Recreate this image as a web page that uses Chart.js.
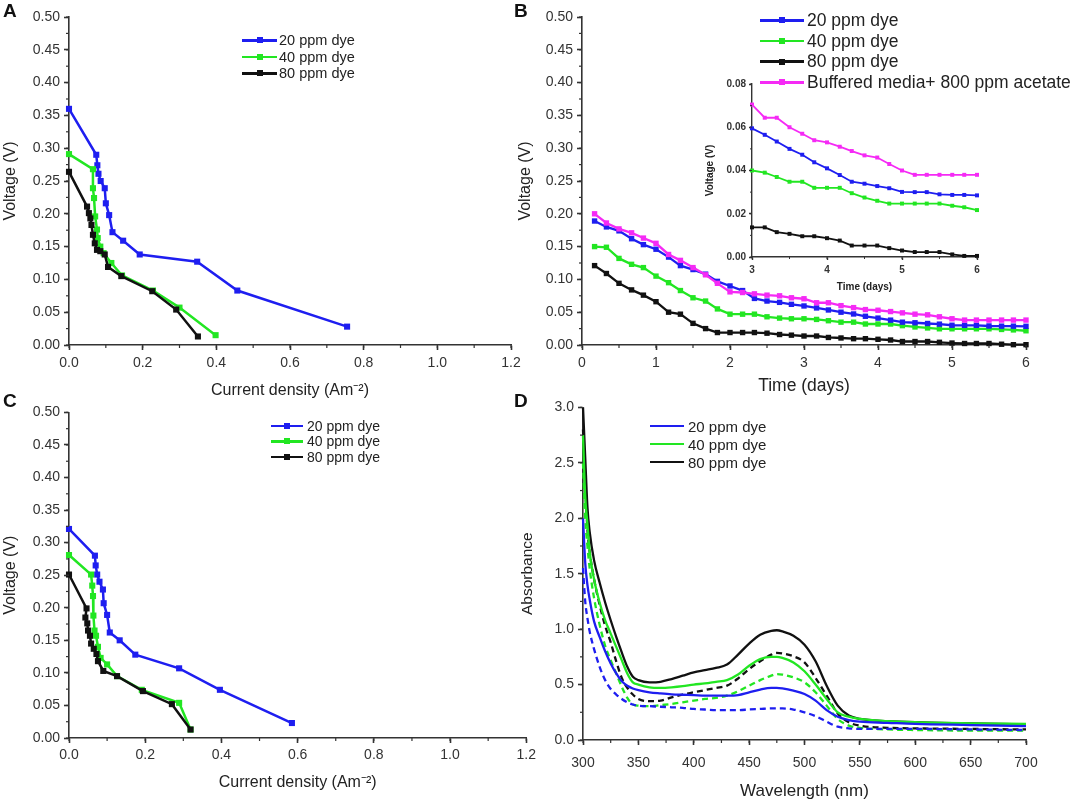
<!DOCTYPE html>
<html>
<head>
<meta charset="utf-8">
<script src="https://cdn.jsdelivr.net/npm/chart.js@4.4.1/dist/chart.umd.min.js"></script>
<style>
  body { margin: 0; background: #fff; width: 1079px; height: 805px; overflow: hidden; position: relative;
         font-family: Arial, "Liberation Sans", sans-serif; }
  canvas { position: absolute; }
  .letter { position: absolute; font-weight: bold; font-size: 19px; color: #111; }
  .legend { position: absolute; color: #222; }
  .legend .row { display: flex; align-items: center; white-space: nowrap; }
  .legend .ln { position: relative; display: inline-block; }
  .legend .mk { position: absolute; left: 50%; top: 50%; transform: translate(-50%, -50%); }
</style>
</head>
<body>
<canvas id="chartA" width="530" height="400" style="left:0;top:0"></canvas>
<canvas id="chartB" width="564" height="400" style="left:515px;top:0"></canvas>
<canvas id="chartC" width="540" height="405" style="left:0;top:400px"></canvas>
<canvas id="chartD" width="564" height="410" style="left:515px;top:395px"></canvas>
<canvas id="chartInset" width="290" height="225" style="left:700px;top:75px"></canvas>
<div class="letter" style="left:3px;top:0">A</div>
<div class="letter" style="left:514px;top:0">B</div>
<div class="letter" style="left:3px;top:390px">C</div>
<div class="letter" style="left:514px;top:390px">D</div>
<div class="legend" id="legA" style="left:242px;top:32px"></div>
<div class="legend" id="legB" style="left:760px;top:10px"></div>
<div class="legend" id="legC" style="left:271px;top:418px"></div>
<div class="legend" id="legD" style="left:650px;top:417px"></div>
<script>
// ---- data ----
const dyeNames = ["20 ppm dye", "40 ppm dye", "80 ppm dye"];
const dyeColors = ["#1e1ef0", "#22e622", "#111111"];
const acetateName = "Buffered media+ 800 ppm acetate";
const acetateColor = "#f52af5";

// A: polarization curves
const aBlueX = [0, 0.074, 0.077, 0.080, 0.086, 0.097, 0.100, 0.109, 0.118, 0.147, 0.192, 0.348, 0.457, 0.755];
const aBlueY = [0.360, 0.290, 0.274, 0.261, 0.250, 0.239, 0.216, 0.198, 0.172, 0.159, 0.138, 0.127, 0.083, 0.028];
const aGreenX = [0, 0.065, 0.065, 0.068, 0.071, 0.076, 0.078, 0.085, 0.094, 0.115, 0.144, 0.228, 0.300, 0.398];
const aGreenY = [0.291, 0.268, 0.239, 0.224, 0.196, 0.176, 0.163, 0.150, 0.140, 0.125, 0.106, 0.083, 0.057, 0.015];
const aBlackX = [0, 0.049, 0.054, 0.058, 0.061, 0.065, 0.070, 0.076, 0.085, 0.097, 0.106, 0.142, 0.226, 0.291, 0.350];
const aBlackY = [0.264, 0.211, 0.201, 0.193, 0.183, 0.168, 0.155, 0.145, 0.143, 0.138, 0.119, 0.105, 0.082, 0.054, 0.013];

// C: polarization curves
const cBlueX = [0, 0.068, 0.070, 0.074, 0.080, 0.089, 0.091, 0.100, 0.107, 0.133, 0.174, 0.289, 0.396, 0.585];
const cBlueY = [0.321, 0.280, 0.265, 0.251, 0.240, 0.228, 0.207, 0.189, 0.162, 0.150, 0.128, 0.107, 0.074, 0.023];
const cGreenX = [0, 0.058, 0.061, 0.063, 0.064, 0.067, 0.071, 0.076, 0.083, 0.100, 0.126, 0.191, 0.289, 0.319];
const cGreenY = [0.281, 0.251, 0.234, 0.218, 0.188, 0.165, 0.157, 0.140, 0.123, 0.113, 0.095, 0.074, 0.054, 0.013];
const cBlackX = [0, 0.046, 0.043, 0.048, 0.050, 0.055, 0.058, 0.065, 0.072, 0.076, 0.090, 0.126, 0.194, 0.270, 0.319];
const cBlackY = [0.251, 0.199, 0.185, 0.176, 0.165, 0.157, 0.145, 0.137, 0.129, 0.118, 0.103, 0.095, 0.072, 0.052, 0.013];

// B: voltage over time
const days = [0.17, 0.33, 0.5, 0.67, 0.83, 1, 1.17, 1.33, 1.5, 1.67, 1.83, 2, 2.17, 2.33, 2.5, 2.67, 2.83, 3,
  3.17, 3.33, 3.5, 3.67, 3.83, 4, 4.17, 4.33, 4.5, 4.67, 4.83, 5, 5.17, 5.33, 5.5, 5.67, 5.83, 6];
const bBlue = [0.189, 0.180, 0.174, 0.162, 0.153, 0.146, 0.134, 0.121, 0.115, 0.108, 0.097, 0.090, 0.083, 0.071, 0.067, 0.065, 0.062, 0.0595,
  0.0565, 0.0534, 0.050, 0.0473, 0.0438, 0.041, 0.0379, 0.0348, 0.0339, 0.0328, 0.0318, 0.0301, 0.030, 0.030, 0.029, 0.0287, 0.0287, 0.0285];
const bGreen = [0.150, 0.149, 0.132, 0.123, 0.118, 0.105, 0.095, 0.083, 0.072, 0.067, 0.055, 0.047, 0.047, 0.047, 0.043, 0.041, 0.040, 0.040,
  0.039, 0.037, 0.0348, 0.0348, 0.032, 0.032, 0.032, 0.0295, 0.0275, 0.026, 0.0247, 0.0247, 0.0247, 0.0247, 0.0247, 0.0237, 0.023, 0.0217];
const bBlack = [0.121, 0.109, 0.094, 0.084, 0.076, 0.066, 0.050, 0.047, 0.033, 0.025, 0.019, 0.019, 0.019, 0.019, 0.018, 0.016, 0.015, 0.0137,
  0.0137, 0.0115, 0.0107, 0.0096, 0.0096, 0.0087, 0.0076, 0.0053, 0.0053, 0.0053, 0.0041, 0.003, 0.0023, 0.0023, 0.0023, 0.0012, 0.0005, 0.0005];
const bAcetate = [0.200, 0.186, 0.177, 0.171, 0.163, 0.155, 0.138, 0.129, 0.118, 0.107, 0.094, 0.081, 0.080, 0.078, 0.076, 0.075, 0.072, 0.0705,
  0.0644, 0.0644, 0.060, 0.057, 0.054, 0.053, 0.051, 0.049, 0.047, 0.046, 0.043, 0.040, 0.038, 0.038, 0.038, 0.038, 0.038, 0.038];

// D: absorbance spectra (solid / dashed)
const wavelength = [300, 302, 304, 306, 310, 315, 320, 325, 330, 335, 340, 345, 350, 360, 370, 380, 390, 400, 410, 420,
  430, 440, 450, 460, 470, 475, 480, 490, 500, 510, 520, 530, 540, 550, 575, 600, 650, 700];
const dBlue = [2.0, 1.6, 1.4, 1.27, 1.07, 0.93, 0.8, 0.69, 0.6, 0.53, 0.49, 0.465, 0.45, 0.43, 0.42, 0.412, 0.408, 0.405, 0.4, 0.4,
  0.4, 0.405, 0.43, 0.455, 0.47, 0.47, 0.465, 0.445, 0.415, 0.355, 0.27, 0.21, 0.18, 0.165, 0.155, 0.145, 0.135, 0.125];
const dGreen = [2.75, 2.2, 1.95, 1.7, 1.45, 1.24, 1.08, 0.96, 0.84, 0.72, 0.6, 0.52, 0.5, 0.475, 0.47, 0.475, 0.485, 0.5, 0.51, 0.525,
  0.54, 0.59, 0.67, 0.73, 0.75, 0.75, 0.74, 0.7, 0.62, 0.5, 0.37, 0.25, 0.21, 0.19, 0.17, 0.16, 0.15, 0.145];
const dBlack = [3.0, 2.55, 2.1, 1.88, 1.62, 1.42, 1.24, 1.08, 0.93, 0.79, 0.66, 0.57, 0.54, 0.52, 0.525, 0.55, 0.58, 0.61, 0.63, 0.65,
  0.68, 0.77, 0.87, 0.95, 0.985, 0.99, 0.98, 0.94, 0.86, 0.71, 0.49, 0.31, 0.22, 0.19, 0.17, 0.16, 0.15, 0.14];
const dBlueDash = [1.55, 1.25, 1.1, 0.98, 0.82, 0.66, 0.54, 0.46, 0.41, 0.37, 0.34, 0.32, 0.31, 0.305, 0.3, 0.295, 0.29, 0.28, 0.275, 0.27,
  0.27, 0.27, 0.275, 0.28, 0.285, 0.285, 0.285, 0.275, 0.25, 0.215, 0.165, 0.12, 0.105, 0.1, 0.1, 0.1, 0.095, 0.09];
const dGreenDash = [2.5, 2.0, 1.75, 1.55, 1.28, 1.04, 0.85, 0.72, 0.6, 0.48, 0.38, 0.32, 0.31, 0.305, 0.315, 0.325, 0.34, 0.355, 0.37, 0.38,
  0.4, 0.44, 0.49, 0.54, 0.58, 0.595, 0.59, 0.565, 0.52, 0.43, 0.31, 0.19, 0.13, 0.11, 0.095, 0.09, 0.085, 0.085];
const dBlackDash = [2.8, 2.3, 1.9, 1.7, 1.45, 1.22, 1.03, 0.88, 0.71, 0.56, 0.47, 0.41, 0.37, 0.35, 0.355, 0.385, 0.41, 0.43, 0.45, 0.47,
  0.49, 0.555, 0.64, 0.71, 0.77, 0.785, 0.78, 0.755, 0.7, 0.56, 0.4, 0.24, 0.16, 0.13, 0.11, 0.105, 0.1, 0.095];

// ---- helpers ----
const FONT = "Arial, 'Liberation Sans', sans-serif";
const AX = "#333";

function pts(xs, ys) {
  return xs.map((x, i) => ({ x: x, y: ys[i] }));
}

// small unlabeled ticks between the major ones
const minorTicks = {
  id: "minorTicks",
  afterDraw(chart, args, opts) {
    const ctx = chart.ctx;
    ctx.save();
    ctx.strokeStyle = AX;
    ctx.lineWidth = opts.w || 1.2;
    ["x", "y"].forEach(id => {
      const sc = chart.scales[id];
      const step = opts[id];
      if (!step) return;
      const n = Math.round((sc.max - sc.min) / step);
      for (let i = 0; i <= n; i++) {
        const p = sc.getPixelForValue(sc.min + i * step);
        ctx.beginPath();
        if (id === "x") { ctx.moveTo(p, sc.top); ctx.lineTo(p, sc.top + opts.len); }
        else { ctx.moveTo(sc.right, p); ctx.lineTo(sc.right - opts.len, p); }
        ctx.stroke();
      }
    });
    ctx.restore();
  }
};

function makeAxis(o) {
  return {
    type: "linear",
    min: o.min, max: o.max,
    afterFit: s => { if (o.w) s.width = o.w; if (o.h) s.height = o.h; },
    border: { color: AX, width: o.bw || 1.6 },
    grid: { drawOnChartArea: false, tickLength: o.tl || 5, tickColor: AX, tickWidth: o.bw || 1.6 },
    ticks: {
      stepSize: o.step, autoSkip: false, maxRotation: 0, padding: o.pad, color: "#333",
      font: { family: FONT, size: o.fs || 14, weight: o.fw || "normal" },
      callback: v => v.toFixed(o.dec)
    },
    title: {
      display: true, text: o.title, color: "#222", padding: o.tpad,
      font: { family: FONT, size: o.tfs || 16, weight: o.fw || "normal" }
    }
  };
}

function series(label, data, color, o) {
  return Object.assign({
    label: label, data: data, showLine: true, borderColor: color, backgroundColor: color,
    borderWidth: 2.5, pointStyle: "rect", pointRadius: 4.3, pointBorderWidth: 0, clip: false
  }, o || {});
}

function baseOptions(padding, scales, minor) {
  return {
    responsive: false, animation: false, layout: { padding: padding },
    plugins: { legend: { display: false }, tooltip: { enabled: false }, minorTicks: minor },
    scales: scales
  };
}

function legend(id, names, colors, o) {
  const box = document.getElementById(id);
  names.forEach((n, i) => {
    const row = document.createElement("div");
    row.className = "row";
    row.style.height = o.rowH + "px";
    row.style.fontSize = o.fs + "px";
    const ln = document.createElement("span");
    ln.className = "ln";
    ln.style.width = o.lineW + "px";
    ln.style.height = o.lw + "px";
    ln.style.background = colors[i];
    ln.style.marginRight = o.gap + "px";
    if (o.mk) {
      const mk = document.createElement("span");
      mk.className = "mk";
      mk.style.width = mk.style.height = o.mk + "px";
      mk.style.background = colors[i];
      ln.appendChild(mk);
    }
    row.appendChild(ln);
    row.appendChild(document.createTextNode(n));
    box.appendChild(row);
  });
}

// ---- A ----
new Chart(document.getElementById("chartA"), {
  type: "scatter",
  data: { datasets: [
    series(dyeNames[2], pts(aBlackX, aBlackY), dyeColors[2], { order: 0 }),
    series(dyeNames[1], pts(aGreenX, aGreenY), dyeColors[1], { order: 1 }),
    series(dyeNames[0], pts(aBlueX, aBlueY), dyeColors[0], { order: 2 })
  ] },
  options: baseOptions({ left: 0, top: 17, right: 19, bottom: 0 }, {
    x: makeAxis({ min: 0, max: 1.2, step: 0.2, dec: 1, h: 55, pad: 5, title: "Current density (Am\u207B\u00B2)", tpad: { top: 0, bottom: 0 } }),
    y: makeAxis({ min: 0, max: 0.5, step: 0.05, dec: 2, w: 69, pad: 4, title: "Voltage (V)", tpad: { top: 1, bottom: 0 } })
  }, { x: 0.1, y: 0.025, len: 3 }),
  plugins: [minorTicks]
});

// ---- C ----
new Chart(document.getElementById("chartC"), {
  type: "scatter",
  data: { datasets: [
    series(dyeNames[2], pts(cBlackX, cBlackY), dyeColors[2], { order: 0 }),
    series(dyeNames[1], pts(cGreenX, cGreenY), dyeColors[1], { order: 1 }),
    series(dyeNames[0], pts(cBlueX, cBlueY), dyeColors[0], { order: 2 })
  ] },
  options: baseOptions({ left: 0, top: 10, right: 13, bottom: 0 }, {
    x: makeAxis({ min: 0, max: 1.2, step: 0.2, dec: 1, h: 67, pad: 4, title: "Current density (Am\u207B\u00B2)", tpad: { top: 0, bottom: 13 } }),
    y: makeAxis({ min: 0, max: 0.5, step: 0.05, dec: 2, w: 69, pad: 4, title: "Voltage (V)", tpad: { top: 1, bottom: 0 } })
  }, { x: 0.1, y: 0.025, len: 3 }),
  plugins: [minorTicks]
});

// ---- B ----
const bSets = [[bBlue, dyeNames[0], dyeColors[0], 1], [bGreen, dyeNames[1], dyeColors[1], 2],
  [bBlack, dyeNames[2], dyeColors[2], 3], [bAcetate, acetateName, acetateColor, 0]];
new Chart(document.getElementById("chartB"), {
  type: "scatter",
  data: { datasets: bSets.map(s => series(s[1], pts(days, s[0]), s[2], { order: s[3], pointRadius: 3.8, borderWidth: 2.3 })) },
  options: baseOptions({ left: 0, top: 17, right: 53, bottom: 0 }, {
    x: makeAxis({ min: 0, max: 6, step: 1, dec: 0, h: 55, pad: 5, title: "Time (days)", tfs: 17.5, tpad: { top: 0, bottom: 3 } }),
    y: makeAxis({ min: 0, max: 0.5, step: 0.05, dec: 2, w: 67, pad: 4, title: "Voltage (V)", tpad: { top: 1, bottom: 0 } })
  }, { x: 0.5, y: 0.025, len: 3 }),
  plugins: [minorTicks]
});

// ---- B inset (days 3-6) ----
new Chart(document.getElementById("chartInset"), {
  type: "scatter",
  data: { datasets: bSets.map(s => series(s[1], pts(days, s[0]).filter(p => p.x >= 3), s[2],
    { order: s[3], pointRadius: 2.8, borderWidth: 1.8 })) },
  options: baseOptions({ left: 0, top: 7, right: 13, bottom: 0 }, {
    x: makeAxis({ min: 3, max: 6, step: 1, dec: 0, h: 43, pad: 4, tl: 3, bw: 1.4, fs: 10, fw: "bold", tfs: 10,
      title: "Time (days)", tpad: { top: 0, bottom: 7 } }),
    y: makeAxis({ min: 0, max: 0.08, step: 0.02, dec: 2, w: 52, pad: 3, tl: 3, bw: 1.4, fs: 10, fw: "bold", tfs: 10,
      title: "Voltage (V)", tpad: { top: 4, bottom: 0 } })
  }, { x: 0.5, y: 0.01, len: 2, w: 1 }),
  plugins: [minorTicks]
});

// ---- D ----
const dSolid = [dBlue, dGreen, dBlack];
const dDash = [dBlueDash, dGreenDash, dBlackDash];
const dLines = { pointRadius: 0, borderWidth: 2.3, cubicInterpolationMode: "monotone" };
new Chart(document.getElementById("chartD"), {
  type: "scatter",
  data: { datasets: dSolid.map((arr, i) => series(dyeNames[i], pts(wavelength, arr), dyeColors[i], dLines))
    .concat(dDash.map((arr, i) => series(dyeNames[i] + " (dashed)", pts(wavelength, arr), dyeColors[i],
      Object.assign({ borderDash: [6, 4] }, dLines)))) },
  options: baseOptions({ left: 0, top: 7.7, right: 53, bottom: 0 }, {
    x: makeAxis({ min: 300, max: 700, step: 50, dec: 0, h: 65, pad: 10, title: "Wavelength (nm)", tfs: 17, tpad: { top: 0, bottom: 3 } }),
    y: makeAxis({ min: 0, max: 3, step: 0.5, dec: 1, w: 68, pad: 4, title: "Absorbance", tfs: 15.5, tpad: { top: 3, bottom: 0 } })
  }, { x: 25, y: 0.25, len: 3 }),
  plugins: [minorTicks]
});

// ---- legends ----
legend("legA", dyeNames, dyeColors, { rowH: 16.5, lineW: 35, lw: 2.5, gap: 2, fs: 14.5, mk: 6 });
legend("legB", dyeNames.concat([acetateName]), dyeColors.concat([acetateColor]), { rowH: 20.7, lineW: 44, lw: 2.5, gap: 3, fs: 17.5, mk: 6 });
legend("legC", dyeNames, dyeColors, { rowH: 15.5, lineW: 32, lw: 2.5, gap: 4, fs: 14, mk: 6 });
legend("legD", dyeNames, dyeColors, { rowH: 18, lineW: 34, lw: 2.5, gap: 4, fs: 15 });
</script>
</body>
</html>
